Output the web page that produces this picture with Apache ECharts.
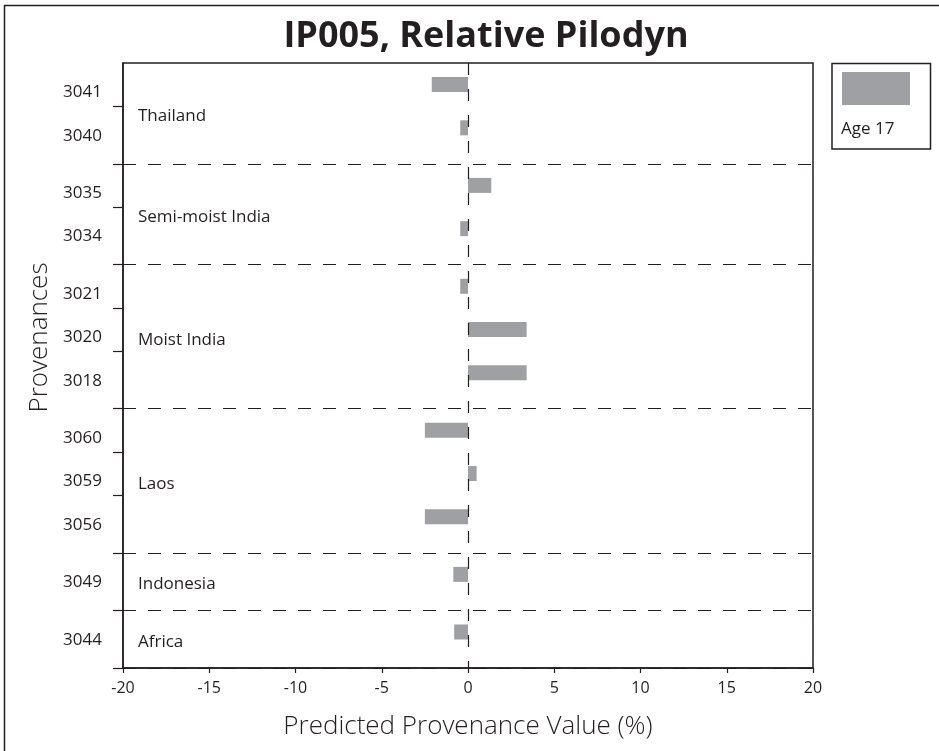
<!DOCTYPE html>
<html>
<head>
<meta charset="utf-8">
<script src="https://cdn.jsdelivr.net/npm/echarts@6/dist/echarts.min.js"></script>
<style>
  html, body { margin: 0; padding: 0; background: #ffffff; }
  #chart { width: 939px; height: 751px; }
</style>
</head>
<body>
<div id="chart"></div>
<script>
// Provenances listed top to bottom, with the region each belongs to
const provenances = ['3041', '3040', '3035', '3034', '3021', '3020', '3018', '3060', '3059', '3056', '3049', '3044'];
const regions = ['Thailand', 'Thailand', 'Semi-moist India', 'Semi-moist India',
                 'Moist India', 'Moist India', 'Moist India', 'Laos', 'Laos', 'Laos',
                 'Indonesia', 'Africa'];
// Predicted provenance value (%), age 17
const age17 = [-2.1, -0.45, 1.35, -0.45, -0.45, 3.4, 3.4, -2.5, 0.5, -2.5, -0.85, -0.8];
const seriesName = 'Age 17';
const chartTitle = 'IP005, Relative Pilodyn';
const xAxisTitle = 'Predicted Provenance Value (%)';
const yAxisTitle = 'Provenances';
const xMin = -20, xMax = 20, xStep = 5;

const INK = '#231f20';
const BAR = '#9fa0a3';
const FONT = '"Open Sans", "Noto Sans", sans-serif';

// Row layout on a slotted category axis: rows of one region sit 3 slots apart,
// a region change adds one extra slot.
const LEAD_SLOTS = 1, ROW_SLOTS = 3, GROUP_SLOTS = 4;
const rowSlot = [];
let slot = LEAD_SLOTS;
provenances.forEach((p, i) => {
  if (i > 0) slot += regions[i] === regions[i - 1] ? ROW_SLOTS : GROUP_SLOTS;
  rowSlot.push(slot);
});
const slotCount = slot + GROUP_SLOTS - 1;
const slotKeys = Array.from({ length: slotCount }, (_, i) => String(i));
const slotLabel = new Array(slotCount).fill('');
const barData = new Array(slotCount).fill('-');
rowSlot.forEach((s, i) => { slotLabel[s] = provenances[i]; barData[s] = age17[i]; });

// Row boundaries (one slot above each row), and those that start a new region
const tickSlots = new Set(rowSlot.slice(1).map(s => s - 1));
const separatorSlots = new Set(rowSlot.filter((s, i) => i > 0 && regions[i] !== regions[i - 1]).map(s => s - 1));

// Region bands in slot boundaries
const regionBands = [];
rowSlot.forEach((s, i) => {
  const last = regionBands[regionBands.length - 1];
  if (!last || last.name !== regions[i]) regionBands.push({ name: regions[i], start: s - 1, end: s + GROUP_SLOTS - 1 });
  else last.end = s + GROUP_SLOTS - 1;
});

const chart = echarts.init(document.getElementById('chart'), null, { renderer: 'canvas' });

chart.setOption({
  animation: false,
  backgroundColor: '#ffffff',
  textStyle: { fontFamily: FONT, color: INK },
  title: {
    text: chartTitle,
    left: 481,
    top: 14,
    textAlign: 'center',
    textStyle: { fontFamily: FONT, fontSize: 36, fontWeight: 'bold', color: INK }
  },
  legend: {
    data: [seriesName],
    left: 837,
    top: 67,
    icon: 'rect',
    itemWidth: 68,
    itemHeight: 33,
    selectedMode: false,
    formatter: () => '',
    itemStyle: { color: BAR }
  },
  grid: {
    left: 123, right: 126, top: 63, bottom: 83,
    show: true, borderColor: INK, borderWidth: 1.5
  },
  xAxis: {
    type: 'value',
    min: xMin, max: xMax, interval: xStep,
    axisLine: { show: true, onZero: false, lineStyle: { color: INK, width: 1.5 } },
    axisTick: { show: true, inside: false, length: 5, lineStyle: { color: INK, width: 1.2 } },
    axisLabel: { fontFamily: FONT, fontSize: 16, color: INK, margin: 12 },
    splitLine: { show: false },
    name: xAxisTitle,
    nameLocation: 'middle',
    nameGap: 46,
    nameTextStyle: { fontFamily: FONT, fontSize: 26, fontWeight: 300, color: INK }
  },
  yAxis: {
    type: 'category',
    inverse: true,
    data: slotKeys,
    boundaryGap: true,
    axisLine: { show: true, onZero: false, lineStyle: { color: INK, width: 1.5 } },
    axisTick: {
      show: true, length: 10, alignWithLabel: false,
      interval: (i) => tickSlots.has(i),
      lineStyle: { color: INK, width: 1.2 }
    },
    axisLabel: {
      interval: (i) => slotLabel[i] !== '',
      formatter: (v, i) => slotLabel[i],
      fontFamily: FONT, fontSize: 17, color: INK, margin: 21,
      verticalAlign: 'top',
      lineHeight: 16
    },
    splitLine: {
      show: true,
      interval: (i) => separatorSlots.has(i),
      lineStyle: { color: INK, width: 1, type: [13, 12] }
    },
    name: yAxisTitle,
    nameLocation: 'middle',
    nameGap: 61,
    nameRotate: 90,
    nameTextStyle: { fontFamily: FONT, fontSize: 26, fontWeight: 300, color: INK, padding: [0, 0, 0, 56] }
  },
  series: [{
    type: 'bar',
    name: seriesName,
    data: barData,
    barWidth: 15,
    itemStyle: { color: BAR },
    markLine: {
      silent: true,
      symbol: ['none', 'none'],
      label: { show: false },
      lineStyle: { color: INK, width: 1.2, type: [12, 14] },
      data: [{ xAxis: 0 }]
    }
  }]
});

// Region names, legend frame and the outer frame
const slotCenter = (k) => chart.convertToPixel({ yAxisIndex: 0 }, String(k));
const slotH = slotCenter(1) - slotCenter(0);
const plotTop = slotCenter(0) - slotH / 2;
const labelX = chart.convertToPixel({ xAxisIndex: 0 }, xMin) + 15;

const graphics = [
  {
    type: 'rect', silent: true,
    shape: { x: 4.5, y: 5.5, width: 1000, height: 1000 },
    style: { fill: 'none', stroke: INK, lineWidth: 1.5 }
  },
  {
    type: 'rect', silent: true,
    shape: { x: 832, y: 63.5, width: 98.5, height: 85.5 },
    style: { fill: 'none', stroke: INK, lineWidth: 1.5 }
  },
  {
    type: 'text', silent: true, x: 841, y: 129,
    style: { text: seriesName, fontFamily: FONT, fontSize: 17, fill: INK, verticalAlign: 'middle', align: 'left' }
  }
];
regionBands.forEach(b => {
  graphics.push({
    type: 'text', silent: true,
    x: labelX,
    y: plotTop + (b.start + b.end) / 2 * slotH + 3,
    style: { text: b.name, fontFamily: FONT, fontSize: 17, fill: INK, verticalAlign: 'middle', align: 'left' }
  });
});
chart.setOption({ graphic: graphics });
</script>
</body>
</html>
